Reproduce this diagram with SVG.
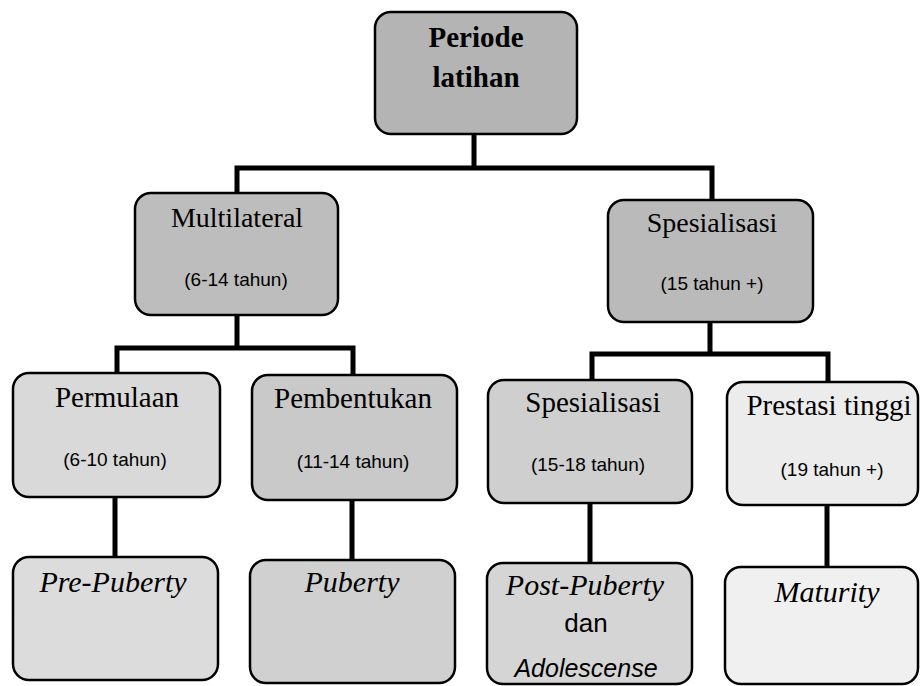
<svg xmlns="http://www.w3.org/2000/svg" width="921" height="686" viewBox="0 0 921 686">
<style>
.box{stroke:#000;stroke-width:2.5}
.conn{stroke:#000;stroke-width:5;fill:none;stroke-linecap:square}
.serif{font-family:"Liberation Serif","Times New Roman",serif;fill:#000}
.bold{font-weight:bold;font-size:29px}
.l2{font-size:28px}
.l3{font-size:29px}
.it{font-style:italic;font-size:30px}
.sans{font-family:"Liberation Sans",Arial,sans-serif;fill:#000;font-size:19px}
</style>
<rect width="921" height="686" fill="#fff"/>
<g id="connectors">
<path class="conn" d="M474,134 V168 M237,168 H712 M237,168 V193 M712,168 V200"/>
<path class="conn" d="M237,315 V348 M117,348 H353 M117,348 V373 M353,348 V375"/>
<path class="conn" d="M710,320 V354 M592,354 H828 M592,354 V380 M828,354 V382"/>
<path class="conn" d="M115,497 V557 M352,500 V560 M590,503 V563 M827,505 V567"/>
</g>
<g id="periode-latihan">
<rect class="box" x="375" y="12" width="202" height="122" rx="16" fill="#b4b4b4"/>
<text class="serif bold" x="476" y="47" text-anchor="middle">Periode</text>
<text class="serif bold" x="476" y="87" text-anchor="middle">latihan</text>
</g>
<g id="multilateral">
<rect class="box" x="135" y="193" width="203" height="122" rx="16" fill="#bdbdbd"/>
<text class="serif l2" x="237" y="227" text-anchor="middle">Multilateral</text>
<text class="sans" x="236" y="286" text-anchor="middle">(6-14 tahun)</text>
</g>
<g id="spesialisasi">
<rect class="box" x="608" y="200" width="205" height="122" rx="16" fill="#bababa"/>
<text class="serif l2" x="712" y="232" text-anchor="middle">Spesialisasi</text>
<text class="sans" x="712" y="290" text-anchor="middle">(15 tahun +)</text>
</g>
<g id="permulaan">
<rect class="box" x="13" y="373" width="207" height="124" rx="16" fill="#d9d9d9"/>
<text class="serif l3" x="117" y="407" text-anchor="middle">Permulaan</text>
<text class="sans" x="115" y="466" text-anchor="middle">(6-10 tahun)</text>
</g>
<g id="pembentukan">
<rect class="box" x="252" y="375" width="205" height="125" rx="16" fill="#c9c9c9"/>
<text class="serif l3" x="353" y="408" text-anchor="middle">Pembentukan</text>
<text class="sans" x="353" y="468" text-anchor="middle">(11-14 tahun)</text>
</g>
<g id="spesialisasi-15-18">
<rect class="box" x="488" y="380" width="204" height="123" rx="16" fill="#cfcfcf"/>
<text class="serif l3" x="593" y="412" text-anchor="middle">Spesialisasi</text>
<text class="sans" x="588" y="471" text-anchor="middle">(15-18 tahun)</text>
</g>
<g id="prestasi-tinggi">
<rect class="box" x="727" y="382" width="191" height="123" rx="16" fill="#ececec"/>
<text class="serif l3" x="829" y="415" text-anchor="middle">Prestasi tinggi</text>
<text class="sans" x="832" y="476" text-anchor="middle">(19 tahun +)</text>
</g>
<g id="pre-puberty">
<rect class="box" x="13" y="557" width="205" height="123" rx="16" fill="#dcdcdc"/>
<text class="serif it" x="113" y="592" text-anchor="middle">Pre-Puberty</text>
</g>
<g id="puberty">
<rect class="box" x="250" y="560" width="205" height="123" rx="16" fill="#d0d0d0"/>
<text class="serif it" x="352" y="592" text-anchor="middle">Puberty</text>
</g>
<g id="post-puberty">
<rect class="box" x="487" y="563" width="205" height="121" rx="16" fill="#d5d5d5"/>
<text class="serif it" x="585" y="595" text-anchor="middle">Post-Puberty</text>
<text class="sans" x="586" y="632" text-anchor="middle" style="font-size:26px">dan</text>
<text class="sans" x="586" y="677" text-anchor="middle" style="font-size:25px;font-style:italic">Adolescense</text>
</g>
<g id="maturity">
<rect class="box" x="725" y="567" width="193" height="117" rx="16" fill="#f0f0f0"/>
<text class="serif it" x="827" y="602" text-anchor="middle">Maturity</text>
</g>
</svg>
